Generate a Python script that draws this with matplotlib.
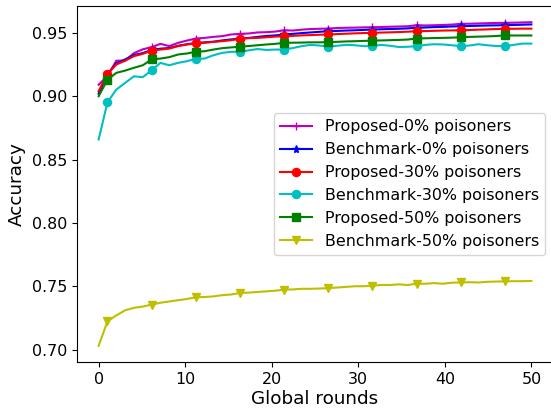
import numpy as np
import matplotlib.pyplot as plt

# rounds (50 evaluation points spread over 0..50)
rounds = np.linspace(0, 50, 50)

proposed_0 = [0.909, 0.916, 0.928, 0.928, 0.934, 0.937, 0.9387, 0.9413, 0.9395, 0.9421,
              0.9439, 0.9455, 0.946, 0.9468, 0.9474, 0.9487, 0.9492, 0.9495, 0.9503, 0.9505,
              0.951, 0.952, 0.9518, 0.9525, 0.953, 0.9532, 0.9534, 0.9538, 0.954, 0.9541,
              0.9543, 0.9544, 0.9546, 0.9548, 0.955, 0.9552, 0.956, 0.9558, 0.956, 0.9562,
              0.9565, 0.9571, 0.9572, 0.9574, 0.9576, 0.9578, 0.9579, 0.958, 0.9582, 0.9584]

benchmark_0 = [0.902, 0.917, 0.926, 0.929, 0.9325, 0.934, 0.9365, 0.9375, 0.938, 0.9398,
               0.941, 0.942, 0.9425, 0.943, 0.944, 0.9448, 0.9455, 0.946, 0.9468, 0.9475,
               0.948, 0.9487, 0.9492, 0.9498, 0.9503, 0.9508, 0.9513, 0.9515, 0.9518, 0.952,
               0.9523, 0.9526, 0.9528, 0.953, 0.9532, 0.9535, 0.954, 0.9542, 0.9545, 0.9547,
               0.955, 0.9552, 0.9554, 0.9556, 0.9558, 0.9559, 0.956, 0.9562, 0.9564, 0.9566]

proposed_30 = [0.904, 0.9175, 0.925, 0.928, 0.9316, 0.9334, 0.936, 0.9368, 0.9376, 0.9395,
               0.9408, 0.9416, 0.9421, 0.9429, 0.9434, 0.9442, 0.9453, 0.9458, 0.946, 0.9465,
               0.947, 0.9474, 0.9476, 0.948, 0.9482, 0.9485, 0.9487, 0.949, 0.9493, 0.9496,
               0.9498, 0.95, 0.9502, 0.9504, 0.9506, 0.9509, 0.9513, 0.9514, 0.9516, 0.9518,
               0.9519, 0.952, 0.9522, 0.9525, 0.9527, 0.953, 0.9532, 0.9532, 0.9533, 0.9533]

benchmark_30 = [0.8658, 0.8952, 0.9052, 0.9105, 0.9157, 0.915, 0.9205, 0.9263, 0.9244, 0.9263,
                0.9276, 0.9295, 0.9297, 0.9323, 0.9342, 0.935, 0.935, 0.9362, 0.9372, 0.9365,
                0.9368, 0.9368, 0.938, 0.9395, 0.9405, 0.94, 0.939, 0.9398, 0.9405, 0.9402,
                0.9395, 0.9395, 0.9405, 0.9398, 0.9388, 0.939, 0.9395, 0.9405, 0.941, 0.9408,
                0.9402, 0.9395, 0.94, 0.941, 0.9402, 0.9396, 0.9395, 0.9405, 0.9415, 0.9415]

proposed_50 = [0.900, 0.913, 0.9184, 0.9202, 0.9224, 0.9244, 0.929, 0.9297, 0.9308, 0.9329,
               0.9337, 0.935, 0.9355, 0.9368, 0.9379, 0.9385, 0.939, 0.9396, 0.9402, 0.9408,
               0.9413, 0.9421, 0.9422, 0.9423, 0.9425, 0.9425, 0.9426, 0.9429, 0.9432, 0.9434,
               0.9436, 0.9439, 0.944, 0.9442, 0.9444, 0.9447, 0.9455, 0.9457, 0.9459, 0.946,
               0.9462, 0.9465, 0.9468, 0.947, 0.9472, 0.9475, 0.9479, 0.9479, 0.9479, 0.9479]

benchmark_50 = [0.703, 0.7223, 0.727, 0.731, 0.733, 0.734, 0.7355, 0.737, 0.738, 0.739,
                0.740, 0.7413, 0.7415, 0.742, 0.743, 0.7435, 0.7447, 0.745, 0.7455, 0.746,
                0.7465, 0.7473, 0.7475, 0.748, 0.748, 0.7482, 0.7485, 0.749, 0.7495, 0.750,
                0.750, 0.7505, 0.751, 0.751, 0.7515, 0.751, 0.752, 0.752, 0.7525, 0.752,
                0.7528, 0.753, 0.7532, 0.753, 0.7535, 0.7537, 0.7539, 0.754, 0.754, 0.7542]

labels = ['Proposed-0% poisoners', 'Benchmark-0% poisoners',
          'Proposed-30% poisoners', 'Benchmark-30% poisoners',
          'Proposed-50% poisoners', 'Benchmark-50% poisoners']

series = [proposed_0, benchmark_0, proposed_30, benchmark_30, proposed_50, benchmark_50]
styles = [('m', '+'), ('b', '*'), ('r', 'o'), ('c', 'o'), ('g', 's'), ('y', 'v')]

fig = plt.figure(figsize=(5.51, 4.08), dpi=100)
ax = fig.add_axes([77 / 551, 46 / 408, 476 / 551, 356 / 408])

for vals, (c, m), lab in zip(series, styles, labels):
    ax.plot(rounds, vals, color=c, marker=m, markevery=(1, 5),
            linewidth=1.5, markersize=5.8, label=lab)

ax.set_xticks([0, 10, 20, 30, 40, 50])
ax.set_yticks([0.70, 0.75, 0.80, 0.85, 0.90, 0.95])
ax.tick_params(labelsize=11.4)
ax.set_xlabel('Global rounds', fontsize=13.2, labelpad=2)
ax.set_ylabel('Accuracy', fontsize=13.2)

ax.legend(loc='center right', fontsize=11.4)

fig.savefig('out.png', dpi=100)
